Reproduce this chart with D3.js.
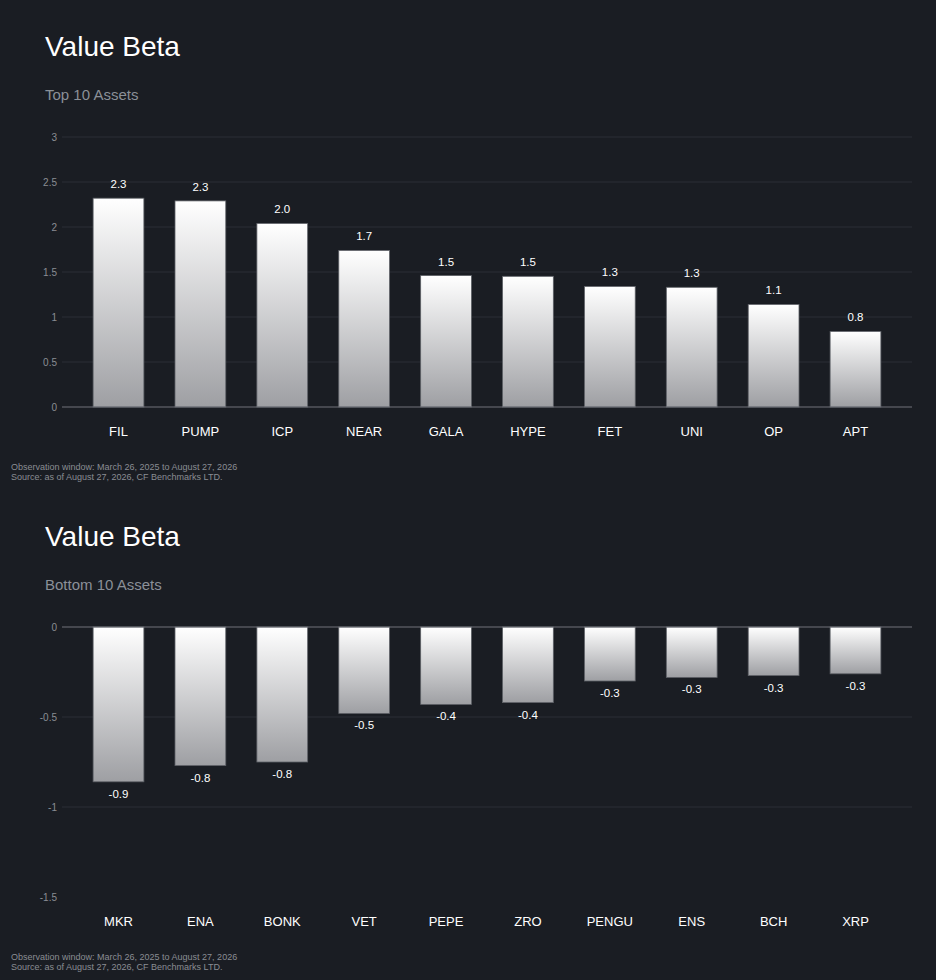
<!DOCTYPE html>
<html lang="en">
  <head>
    <meta charset="UTF-8" />
    <script src="https://cdn.jsdelivr.net/npm/d3@7"></script>
    <style>
      * {
        margin: 0;
        padding: 0;
      }
      body {
        background: #1a1d23;
      }
      #container svg {
        display: block;
      }
    </style>
    <title>Value Beta</title>
  </head>
  <body>
    <div id="container"></div>
  </body>
  <script>
    const topAssets = ['FIL', 'PUMP', 'ICP', 'NEAR', 'GALA', 'HYPE', 'FET', 'UNI', 'OP', 'APT'];
    const topBetas = [2.32, 2.29, 2.04, 1.74, 1.46, 1.452, 1.34, 1.33, 1.14, 0.84];
    const topTicks = [0, 0.5, 1, 1.5, 2, 2.5, 3];

    const bottomAssets = ['MKR', 'ENA', 'BONK', 'VET', 'PEPE', 'ZRO', 'PENGU', 'ENS', 'BCH', 'XRP'];
    const bottomBetas = [-0.86, -0.77, -0.75, -0.48, -0.43, -0.42, -0.3, -0.28, -0.27, -0.26];
    const bottomTicks = [0, -0.5, -1, -1.5];

    const footnotes = [
      'Observation window: March 26, 2025 to August 27, 2026',
      'Source: as of August 27, 2026, CF Benchmarks LTD.',
    ];

    const width = 936;
    const height = 980;
    const panelHeight = 490;
    const font = '"Liberation Sans", Arial, Helvetica, sans-serif';

    const svg = d3
      .select('#container')
      .append('svg')
      .attr('width', width)
      .attr('height', height)
      .style('font-family', font);

    svg.append('rect').attr('width', width).attr('height', height).attr('fill', '#1a1d23');

    // shared bar gradient: white on top, grey at the bottom
    const grad = svg
      .append('defs')
      .append('linearGradient')
      .attr('id', 'barGrad')
      .attr('x1', 0)
      .attr('y1', 0)
      .attr('x2', 0)
      .attr('y2', 1);
    grad.append('stop').attr('offset', '0%').attr('stop-color', '#ffffff');
    grad.append('stop').attr('offset', '100%').attr('stop-color', '#9e9fa3');

    function drawPanel(offsetY, subtitle, assets, values, ticks) {
      const g = svg.append('g').attr('transform', `translate(0,${offsetY})`);
      const left = 62;
      const right = 912;
      const plotTop = 137;
      const plotBottom = 407;

      // title
      g.append('text')
        .text('Value Beta')
        .attr('x', 45)
        .attr('y', 56)
        .attr('font-size', 28)
        .attr('fill', '#ffffff');

      g.append('text')
        .text(subtitle)
        .attr('x', 45)
        .attr('y', 100)
        .attr('font-size', 15)
        .attr('fill', '#8b9098');

      const x = d3.scaleBand().domain(assets).range([left, right]).padding(0.38);
      const y = d3
        .scaleLinear()
        .domain(d3.extent(ticks))
        .range([plotBottom, plotTop]);

      // grid
      g.append('g')
        .selectAll('line')
        .data(ticks.filter((t) => t !== 0 && y(t) < plotBottom - 1))
        .join('line')
        .attr('x1', left)
        .attr('x2', right)
        .attr('y1', (d) => y(d))
        .attr('y2', (d) => y(d))
        .attr('stroke', '#2b2f36')
        .attr('stroke-width', 1);

      // y tick labels
      g.append('g')
        .selectAll('text')
        .data(ticks)
        .join('text')
        .attr('x', 57)
        .attr('y', (d) => y(d) + 3.5)
        .attr('text-anchor', 'end')
        .attr('font-size', 10)
        .attr('fill', '#8a8d93')
        .text((d) => d);

      // bars
      g.append('g')
        .selectAll('rect')
        .data(values)
        .join('rect')
        .attr('x', (d, i) => x(assets[i]))
        .attr('width', x.bandwidth())
        .attr('y', (d) => Math.min(y(d), y(0)))
        .attr('height', (d) => Math.abs(y(d) - y(0)))
        .attr('fill', 'url(#barGrad)')
        .attr('stroke', '#5e6167')
        .attr('stroke-width', 0.8);

      // zero line
      g.append('line')
        .attr('x1', left)
        .attr('x2', right)
        .attr('y1', y(0))
        .attr('y2', y(0))
        .attr('stroke', '#70737a')
        .attr('stroke-width', 1);

      // value labels
      g.append('g')
        .selectAll('text')
        .data(values)
        .join('text')
        .attr('x', (d, i) => x(assets[i]) + x.bandwidth() / 2)
        .attr('y', (d) => (d >= 0 ? y(d) - 10 : y(d) + 16))
        .attr('text-anchor', 'middle')
        .attr('font-size', 11.5)
        .attr('fill', '#ffffff')
        .text((d) => d.toFixed(1));

      // category labels
      g.append('g')
        .selectAll('text')
        .data(assets)
        .join('text')
        .attr('x', (d) => x(d) + x.bandwidth() / 2)
        .attr('y', 436)
        .attr('text-anchor', 'middle')
        .attr('font-size', 13)
        .attr('fill', '#ffffff')
        .text((d) => d);

      // footnotes
      g.append('g')
        .selectAll('text')
        .data(footnotes)
        .join('text')
        .attr('x', 11)
        .attr('y', (d, i) => 470 + i * 10)
        .attr('font-size', 9)
        .attr('fill', '#8a8d93')
        .text((d) => d);
    }

    drawPanel(0, 'Top 10 Assets', topAssets, topBetas, topTicks);
    drawPanel(panelHeight, 'Bottom 10 Assets', bottomAssets, bottomBetas, bottomTicks);
  </script>
</html>
